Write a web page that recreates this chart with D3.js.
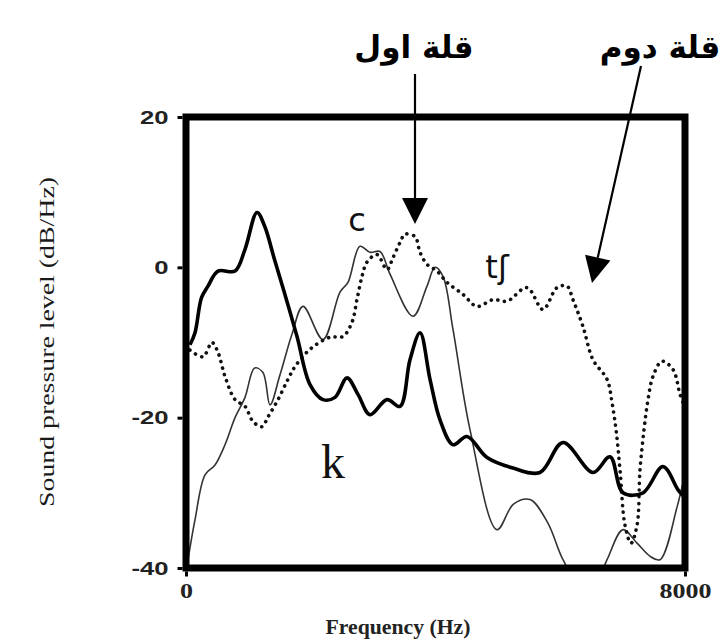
<!DOCTYPE html>
<html>
<head>
<meta charset="utf-8">
<script src="https://cdn.jsdelivr.net/npm/d3@7"></script>
<style>
  html, body { margin: 0; padding: 0; background: #fff; }
  svg { display: block; }
</style>
</head>
<body>
<svg id="chart" width="720" height="644"></svg>
<script>
// ---- data ----
const xTicks = [0, 8000];
const yTicks = [20, 0, -20, -40];

// thick solid line: /k/
const kFreq = [64,144,250,353,513,786,946,1138,1260,1420,1600,1780,1988,2196,2389,2581,2757,2950,3222,3431,3591,3752,3912,4072,4281,4505,4826,5242,5675,6044,6525,6798,7006,7327,7647,7888,7984];
const kDb   = [-10.3,-8.7,-4,-2.5,-0.5,-0.5,2.4,7.3,5.5,1,-4,-9.2,-15.6,-17.6,-17.3,-14.7,-16.9,-19.6,-17.6,-18.5,-12.3,-8.7,-14.9,-20.3,-23.6,-22.5,-25.3,-26.7,-27.3,-23.3,-27.3,-25.2,-30,-30,-26.5,-29.6,-30.5];

// thin solid line: /c/
const cFreq = [32,144,305,465,625,786,946,1100,1234,1347,1507,1699,1876,2196,2469,2597,2789,2950,3110,3271,3639,3864,3992,4120,4281,4553,4986,5250,5515,5800,6044,6300,6600,6750,7006,7231,7450,7600,7872,7984];
const cDb   = [-38.9,-33.6,-27.6,-26.3,-23.6,-20,-17.3,-13.4,-14,-18.3,-14.3,-8.9,-5.2,-9.6,-3.3,-2,2.8,2,2.1,-0.9,-6.5,-2.5,0,-1.2,-8.3,-21.6,-34.9,-31.5,-30.9,-34,-38.9,-42,-41.5,-38.9,-34.9,-36.7,-38.5,-38.9,-31.9,-28];

// dotted line: /tʃ/
const tFreq = [64,272,417,513,625,786,946,1074,1218,1315,1475,1635,1748,1988,2309,2517,2661,2741,2822,2902,3062,3222,3319,3431,3511,3671,3752,3864,4024,4185,4441,4665,4922,5146,5467,5723,5948,6108,6204,6365,6525,6750,6830,6894,6958,7038,7134,7231,7279,7343,7407,7487,7631,7808,7920,7984];
const tDb   = [-11,-11.9,-10,-11.3,-14.5,-17.6,-18.5,-20.5,-21.2,-19.9,-17.6,-14.9,-13.2,-10.9,-9.3,-9.2,-7.3,-4.3,-1.2,0.7,1.7,-0.3,1.3,3.3,4.4,4.1,2,0.4,-0.5,-2,-3.6,-5.2,-4.3,-4.5,-2.7,-5.6,-2.7,-2.5,-4.3,-7.9,-12.3,-14.9,-18,-21.6,-26.9,-34.3,-36.7,-34.3,-26.9,-21.6,-17.6,-14.5,-12.5,-13.6,-16.9,-18.3];

const peakLabels = ["قلة اول", "قلة دوم"];
const soundLabels = ["c", "tʃ", "k"];

// ---- drawing ----
const svg = d3.select("#chart");
const x = d3.scaleLinear().domain([0, 8000]).range([186, 685]);
const y = d3.scaleLinear().domain([-40, 20]).range([568, 117]);

svg.append("defs").append("clipPath").attr("id", "plotclip")
  .append("rect")
  .attr("x", x(0)).attr("y", y(20))
  .attr("width", x(8000) - x(0)).attr("height", y(-40) - y(20));

const line = d3.line()
  .x(d => x(d[0])).y(d => y(d[1]))
  .curve(d3.curveCatmullRom.alpha(0.5));

const g = svg.append("g").attr("clip-path", "url(#plotclip)");

g.append("path")
  .datum(cFreq.map((f, i) => [f, cDb[i]]))
  .attr("d", line)
  .attr("fill", "none").attr("stroke", "#333").attr("stroke-width", 1.6);

g.append("path")
  .datum(tFreq.map((f, i) => [f, tDb[i]]))
  .attr("d", line)
  .attr("fill", "none").attr("stroke", "#111").attr("stroke-width", 3.6)
  .attr("stroke-linecap", "round").attr("stroke-dasharray", "0.1,6.6");

g.append("path")
  .datum(kFreq.map((f, i) => [f, kDb[i]]))
  .attr("d", line)
  .attr("fill", "none").attr("stroke", "#000").attr("stroke-width", 3.6)
  .attr("stroke-linejoin", "round");

// frame
svg.append("rect")
  .attr("x", x(0)).attr("y", y(20))
  .attr("width", x(8000) - x(0)).attr("height", y(-40) - y(20))
  .attr("fill", "none").attr("stroke", "#000").attr("stroke-width", 7);

// axes
const yAxis = svg.append("g")
  .attr("transform", `translate(${x(0) - 3.5},0)`)
  .call(d3.axisLeft(y).tickValues(yTicks).tickSize(5).tickPadding(2).tickFormat(d => String(d)));
yAxis.select(".domain").remove();
yAxis.selectAll(".tick line").attr("stroke", "#000").attr("stroke-width", 3);
yAxis.selectAll(".tick text")
  .attr("x", 0)
  .attr("transform", "translate(-14,0) scale(1.35,1)")
  .attr("font-family", "Liberation Sans, Arial, sans-serif")
  .attr("font-weight", "bold").attr("font-size", 19).attr("fill", "#222");

const xAxis = svg.append("g")
  .attr("transform", `translate(0,${y(-40) + 3.5})`)
  .call(d3.axisBottom(x).tickValues(xTicks).tickSize(5).tickPadding(6).tickFormat(d => String(d)));
xAxis.select(".domain").remove();
xAxis.selectAll(".tick line").attr("stroke", "#000").attr("stroke-width", 3);
xAxis.selectAll(".tick text")
  .attr("y", 0)
  .attr("transform", "translate(0,12) scale(1.3,1)")
  .attr("font-family", "Liberation Serif, Times New Roman, serif")
  .attr("font-weight", "bold").attr("font-size", 20).attr("fill", "#222");

// axis titles
svg.append("text")
  .attr("x", 398).attr("y", 634)
  .attr("text-anchor", "middle")
  .attr("font-family", "Liberation Serif, Times New Roman, serif")
  .attr("font-weight", "bold").attr("font-size", 20).attr("fill", "#222")
  .attr("textLength", 145).attr("lengthAdjust", "spacingAndGlyphs")
  .text("Frequency (Hz)");

svg.append("text")
  .attr("transform", "translate(54,342) rotate(-90)")
  .attr("text-anchor", "middle")
  .attr("font-family", "Liberation Serif, Times New Roman, serif")
  .attr("font-size", 20).attr("fill", "#1a1a1a")
  .attr("textLength", 330).attr("lengthAdjust", "spacingAndGlyphs")
  .text("Sound pressure level (dB/Hz)");

// sound labels
svg.append("text").attr("x", 357).attr("y", 231).attr("text-anchor", "middle")
  .attr("font-family", "DejaVu Sans, sans-serif").attr("font-size", 32).attr("fill", "#111")
  .text(soundLabels[0]);
svg.append("text").attr("x", 497).attr("y", 278).attr("text-anchor", "middle")
  .attr("font-family", "DejaVu Sans, sans-serif").attr("font-size", 32).attr("fill", "#111")
  .text(soundLabels[1]);
svg.append("text").attr("x", 333).attr("y", 478).attr("text-anchor", "middle")
  .attr("font-family", "Liberation Serif, Times New Roman, serif").attr("font-size", 48).attr("fill", "#111")
  .text(soundLabels[2]);

// peak annotations
svg.append("text").attr("x", 414).attr("y", 58).attr("text-anchor", "middle")
  .attr("font-family", "DejaVu Sans, sans-serif").attr("font-weight", "bold")
  .attr("font-size", 31).attr("fill", "#000").attr("direction", "rtl")
  .text(peakLabels[0]);
svg.append("text").attr("x", 660).attr("y", 58).attr("text-anchor", "middle")
  .attr("font-family", "DejaVu Sans, sans-serif").attr("font-weight", "bold")
  .attr("font-size", 31).attr("fill", "#000").attr("direction", "rtl")
  .text(peakLabels[1]);

function arrow(x0, y0, x1, y1, headLen, headHalf) {
  const dx = x1 - x0, dy = y1 - y0, L = Math.hypot(dx, dy);
  const ux = dx / L, uy = dy / L;
  const bx = x1 - ux * headLen, by = y1 - uy * headLen;
  svg.append("line").attr("x1", x0).attr("y1", y0).attr("x2", bx).attr("y2", by)
    .attr("stroke", "#000").attr("stroke-width", 2.2);
  svg.append("path")
    .attr("d", `M${x1},${y1}L${bx - uy * headHalf},${by + ux * headHalf}L${bx + uy * headHalf},${by - ux * headHalf}Z`)
    .attr("fill", "#000");
}
arrow(415, 74, 415, 224, 26, 13);
arrow(641, 66, 592, 283, 26, 13);
</script>
</body>
</html>
